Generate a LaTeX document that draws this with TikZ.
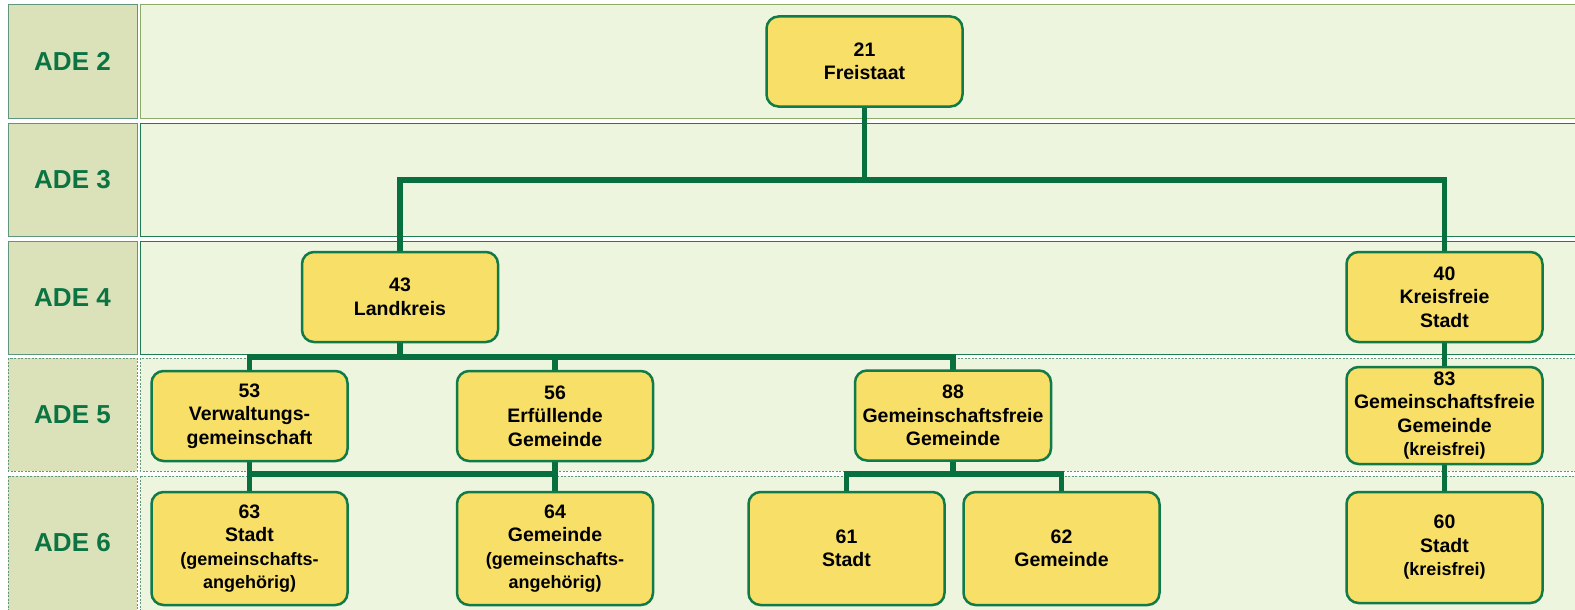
\documentclass[tikz,border=0pt]{standalone}
\usepackage{fontspec}
\setmainfont{Liberation Sans}
\definecolor{labelfill}{RGB}{219,226,186}
\definecolor{bodyfill}{RGB}{238,245,222}
\definecolor{rowline}{RGB}{30,125,80}
\definecolor{oliveline}{RGB}{140,172,105}
\definecolor{dashline}{RGB}{95,150,125}
\definecolor{boxfill}{RGB}{248,224,104}
\definecolor{boxline}{RGB}{16,122,72}
\definecolor{linkgreen}{RGB}{8,112,62}
\definecolor{adegreen}{RGB}{12,116,66}
\pgfdeclarelayer{rows}
\pgfdeclarelayer{links}
\pgfsetlayers{rows,links,main}
\tikzset{
  unit/.style={draw=boxline, line width=2.5pt, fill=boxfill, rounded corners=12pt,
    minimum width=196pt, minimum height=90pt, inner sep=1pt, align=center,
    font=\bfseries\fontsize{19.5}{23.5}\selectfont},
  link/.style={draw=linkgreen, line width=5.5pt, line cap=rect},
  adelabel/.style={text=adegreen, font=\bfseries\fontsize{26}{30}\selectfont},
  solidcell/.style={line width=1pt},
  dashcell/.style={draw=dashline, line width=0.8pt, dash pattern=on 2pt off 1.5pt}
}
\newcommand{\klammer}[1]{{\fontsize{18}{23}\selectfont #1}}
\begin{document}
\begin{tikzpicture}[x=1pt,y=-1pt]
\useasboundingbox (0,0) rectangle (1575,610);
\begin{pgfonlayer}{rows}
\foreach \n/\t/\b/\c in {2/5/118/oliveline,3/123/236/rowline,4/241/354/rowline} {
\draw[solidcell,draw=dashline,fill=labelfill] (8,\t) rectangle (137,\b);
\draw[solidcell,draw=\c,fill=bodyfill] (140,\t) rectangle (1590,\b);
\node[adelabel] (ade\n) at (72.5,{(\t+\b)/2}) {ADE \n};
}
\foreach \n/\t/\b in {5/358/471,6/476/625} {
\draw[dashcell,fill=labelfill] (8,\t) rectangle (137,\b);
\draw[dashcell,fill=bodyfill] (140,\t) rectangle (1590,\b);
}
\node[adelabel] (ade5) at (72.5,414.5) {ADE 5};
\node[adelabel] (ade6) at (72.5,543) {ADE 6};
\end{pgfonlayer}
\node[unit] (n21) at (864.5,61.5) {21\\Freistaat};
\node[unit] (n43) at (400,297) {43\\Landkreis};
\node[unit] (n40) at (1444.5,297) {40\\Kreisfreie\\Stadt};
\node[unit] (n53) at (249.5,416) {53\\Verwaltungs-\\gemeinschaft};
\node[unit] (n56) at (555,416) {56\\Erfüllende\\Gemeinde};
\node[unit] (n88) at (953,415.5) {88\\Gemeinschaftsfreie\\Gemeinde};
\node[unit,minimum height=97pt] (n83) at (1444.5,415.5) {83\\Gemeinschaftsfreie\\Gemeinde\\\klammer{(kreisfrei)}};
\node[unit,minimum height=113pt] (n63) at (249.5,548.5) {63\\Stadt\\\klammer{(gemeinschafts-}\\\klammer{angehörig)}};
\node[unit,minimum height=113pt] (n64) at (555,548.5) {64\\Gemeinde\\\klammer{(gemeinschafts-}\\\klammer{angehörig)}};
\node[unit,minimum height=113pt] (n61) at (846.5,548.5) {61\\Stadt};
\node[unit,minimum height=113pt] (n62) at (1061.5,548.5) {62\\Gemeinde};
\node[unit,minimum height=111pt] (n60) at (1444.5,547.5) {60\\Stadt\\\klammer{(kreisfrei)}};
\begin{pgfonlayer}{links}
\coordinate (bus2) at (0,180);
\coordinate (bus4) at (0,357);
\coordinate (bus5) at (0,474);
\draw[link] (n21.south) -- (n21.south |- bus2);
\draw[link] (n43.north) |- (n40.north |- bus2) -- (n40.north);
\draw[link] (n43.south) -- (n43.south |- bus4);
\draw[link] (n53.north) |- (n88.north |- bus4) -- (n88.north);
\draw[link] (n56.north) -- (n56.north |- bus4);
\draw[link] (n53.south) -- (n63.north);
\draw[link] (n56.south) -- (n64.north);
\draw[link] (n53.south |- bus5) -- (n56.south |- bus5);
\draw[link] (n88.south) -- (n88.south |- bus5);
\draw[link] (n61.north) |- (n62.north |- bus5) -- (n62.north);
\draw[link] (n40.south) -- (n83.north);
\draw[link] (n83.south) -- (n60.north);
\end{pgfonlayer}
\end{tikzpicture}
\end{document}
